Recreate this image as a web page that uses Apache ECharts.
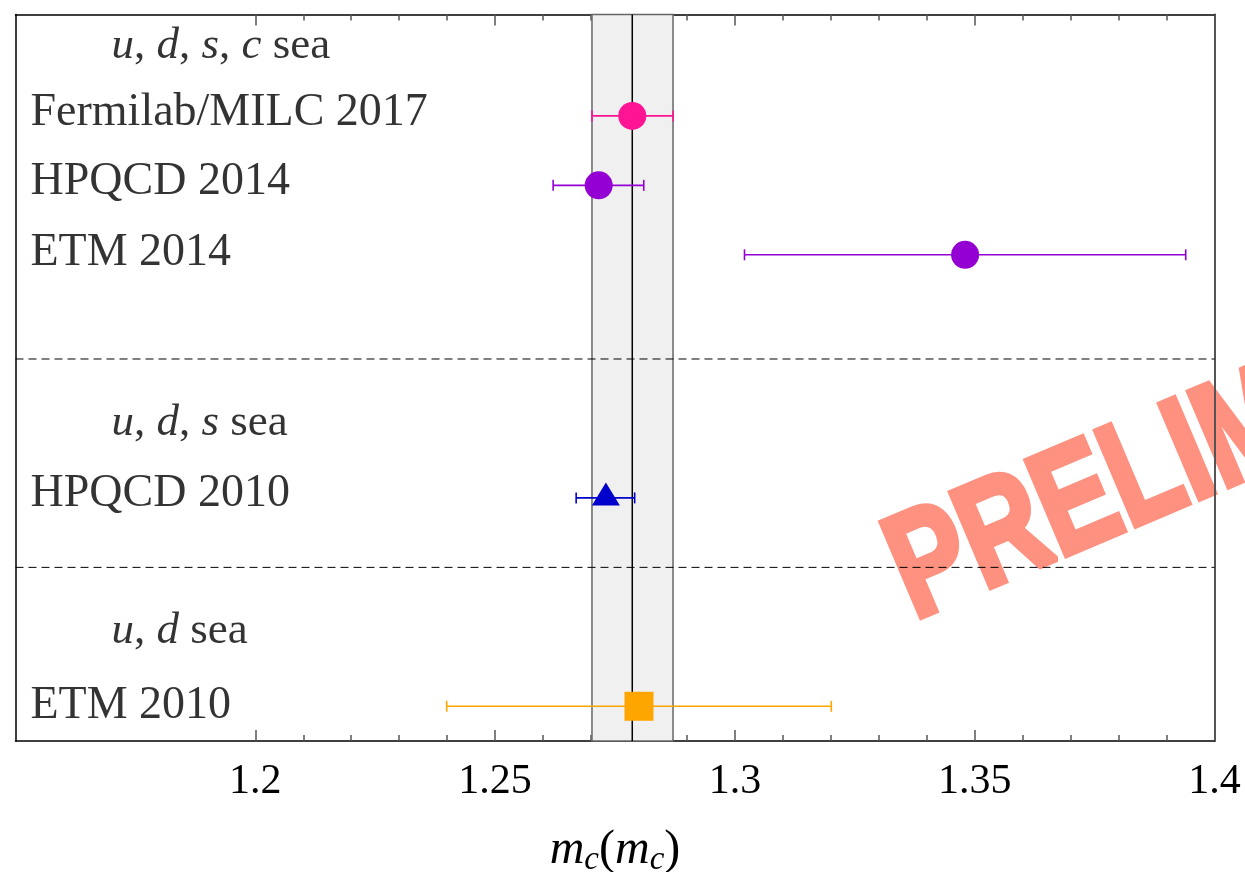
<!DOCTYPE html>
<html>
<head>
<meta charset="utf-8">
<script src="https://cdn.jsdelivr.net/npm/echarts@6/dist/echarts.min.js"></script>
<style>
html,body{margin:0;padding:0;background:#fff;}
#chart{width:1245px;height:872px;}
</style>
</head>
<body>
<div id="chart"></div>
<script>
// ---- data ----
const studies   = ['Fermilab/MILC 2017', 'HPQCD 2014', 'ETM 2014', 'HPQCD 2010', 'ETM 2010'];
const rowPos    = [9, 8, 7, 3.5, 0.5];
const central   = [1.2786, 1.2716, 1.3480, 1.2731, 1.2800];
const errLow    = [1.2702, 1.2621, 1.3020, 1.2669, 1.2399];
const errHigh   = [1.2871, 1.2810, 1.3940, 1.2791, 1.3201];
const groupLabels = ['{i|u}, {i|d}, {i|s}, {i|c} sea', '{i|u}, {i|d}, {i|s} sea', '{i|u}, {i|d} sea'];
const groupPos    = [10, 4.5, 1.5];
const separators  = [5.5, 2.5];
const averageBand = [1.2702, 1.2786, 1.2871]; // low, central, high
const majorTicks  = [1.2, 1.25, 1.3, 1.35, 1.4];
const minorTicks  = [1.21, 1.22, 1.23, 1.24, 1.26, 1.27, 1.28, 1.29, 1.31, 1.32, 1.33, 1.34, 1.36, 1.37, 1.38, 1.39];
const watermark   = 'PRELIMINARY';

// ---- styles ----
const colors  = ['#ff1493', '#9400d3', '#9400d3', '#0000cd', '#ffa500'];
const symbols = ['circle', 'circle', 'circle', 'triangle', 'rect'];
const sizes   = [28, 28, 28, [28, 23], 29];
const offsets = [[0,0],[0,0],[0,0],[0,-4],[0,0]];
const nameLabelShift  = [-2.5, -3, -2, -3.5, 0];
const groupLabelShift = [-0.6, -5.4, -5.3];
const serif = '"Liberation Serif", "DejaVu Serif", serif';
const ink = '#000';

const chart = echarts.init(document.getElementById('chart'), null, {renderer: 'canvas'});

function xAxisCfg(pos, major) {
  return {
    type: 'value', position: pos, min: 1.15, max: 1.4, interval: 0.05,
    axisLine: {show: major, onZero: false, lineStyle: {color: '#000', width: 1.5}},
    axisTick: {show: true, inside: true, length: major ? 11 : 6,
               customValues: major ? majorTicks : minorTicks,
               lineStyle: {color: '#555', width: 1.5}},
    minorTick: {show: false},
    splitLine: {show: false},
    axisLabel: {
      show: pos === 'bottom' && major, margin: 20, fontFamily: serif, fontSize: 42, color: ink,
      customValues: majorTicks,
      formatter: v => String(Math.round(v * 100) / 100)
    }
  };
}

const option = {
  animation: false,
  backgroundColor: '#fff',
  grid: {left: 15.5, top: 14.5, width: 1199, height: 726.5, containLabel: false, outerBoundsMode: 'none'},
  xAxis: [
    Object.assign(xAxisCfg('bottom', true), {
      name: '{i|m}{s|c}({i|m}{s|c})',
      nameLocation: 'middle', nameGap: 83,
      nameTextStyle: {
        fontFamily: serif, fontSize: 48, color: ink,
        rich: {
          i: {fontFamily: serif, fontStyle: 'italic', fontSize: 48, color: ink},
          s: {fontFamily: serif, fontStyle: 'italic', fontSize: 33, color: ink, padding: [20, 0, 0, 0]}
        }
      }
    }),
    xAxisCfg('bottom', false),
    xAxisCfg('top', true),
    xAxisCfg('top', false)
  ],
  yAxis: [
    {type: 'value', position: 'left', min: 0, max: 10.46,
     axisLine: {show: true, lineStyle: {color: '#000', width: 1.5}},
     axisTick: {show: false}, axisLabel: {show: false}, splitLine: {show: false}},
    {type: 'value', position: 'right', min: 0, max: 10.46,
     axisLine: {show: true, lineStyle: {color: '#555', width: 2}},
     axisTick: {show: false}, axisLabel: {show: false}, splitLine: {show: false}}
  ],
  graphic: {
    elements: [{
      type: 'text', z: -10, x: 898, y: 582,
      rotation: 23 * Math.PI / 180, scaleX: 0.81, scaleY: 1.06,
      style: {
        text: watermark, fill: '#ff9180', stroke: '#ff9180', lineWidth: 6, lineJoin: 'round',
        font: 'bold 140px "Liberation Sans", sans-serif',
        align: 'left', verticalAlign: 'middle'
      }
    }]
  },
  series: [
    {
      type: 'custom', z: 1, silent: true,
      data: [[averageBand[0], averageBand[1], averageBand[2], 0]],
      encode: {x: [0, 1, 2], y: 3},
      renderItem: function (params, api) {
        const cs = params.coordSys;
        const x0 = api.coord([api.value(0), 0])[0];
        const xc = api.coord([api.value(1), 0])[0];
        const x1 = api.coord([api.value(2), 0])[0];
        return {type: 'group', children: [
          {type: 'rect', shape: {x: x0, y: cs.y, width: x1 - x0, height: cs.height},
           style: {fill: '#f0f0f0', stroke: '#666', lineWidth: 1.5}},
          {type: 'line', shape: {x1: xc, y1: cs.y, x2: xc, y2: cs.y + cs.height},
           style: {stroke: '#000', lineWidth: 1.5}}
        ]};
      }
    },
    {
      type: 'custom', z: 2, silent: true,
      data: separators.map(s => [1.15, s]),
      encode: {x: 0, y: 1},
      renderItem: function (params, api) {
        const cs = params.coordSys;
        const y = api.coord([1.15, api.value(1)])[1];
        return {type: 'line', shape: {x1: cs.x, y1: y, x2: cs.x + cs.width, y2: y},
                style: {stroke: '#000', lineWidth: 1, lineDash: [8, 5]}};
      }
    },
    {
      type: 'custom', z: 3, silent: true,
      data: studies.map((s, i) => [errLow[i], errHigh[i], rowPos[i], i]),
      encode: {x: [0, 1], y: 2},
      renderItem: function (params, api) {
        const a = api.coord([api.value(0), api.value(2)]);
        const b = api.coord([api.value(1), api.value(2)]);
        const c = colors[api.value(3)];
        const h = 5.5;
        const st = {stroke: c, lineWidth: 1.6};
        return {type: 'group', children: [
          {type: 'line', shape: {x1: a[0], y1: a[1], x2: b[0], y2: b[1]}, style: st},
          {type: 'line', shape: {x1: a[0], y1: a[1] - h, x2: a[0], y2: a[1] + h}, style: st},
          {type: 'line', shape: {x1: b[0], y1: b[1] - h, x2: b[0], y2: b[1] + h}, style: st}
        ]};
      }
    },
    {
      type: 'scatter', z: 4, silent: true,
      data: studies.map((s, i) => ({
        value: [central[i], rowPos[i]],
        symbol: symbols[i], symbolSize: sizes[i], symbolOffset: offsets[i],
        itemStyle: {color: colors[i], opacity: 1}
      }))
    },
    {
      type: 'scatter', z: 5, silent: true, symbolSize: 0,
      data: studies.map((s, i) => ({
        value: [1.15, rowPos[i], s],
        label: {offset: [0, nameLabelShift[i]]}
      })),
      label: {
        show: true, position: 'right', distance: 15,
        formatter: p => p.value[2],
        fontFamily: serif, fontSize: 46, color: ink
      }
    },
    {
      type: 'scatter', z: 5, silent: true, symbolSize: 0,
      data: groupLabels.map((s, i) => ({
        value: [1.15, groupPos[i], s],
        label: {offset: [0, groupLabelShift[i]]}
      })),
      label: {
        show: true, position: 'right', distance: 96,
        formatter: p => p.value[2],
        fontFamily: serif, fontSize: 45, color: ink,
        rich: {i: {fontFamily: serif, fontStyle: 'italic', fontSize: 45, color: ink}}
      }
    }
  ]
};
chart.setOption(option);
</script>
</body>
</html>
